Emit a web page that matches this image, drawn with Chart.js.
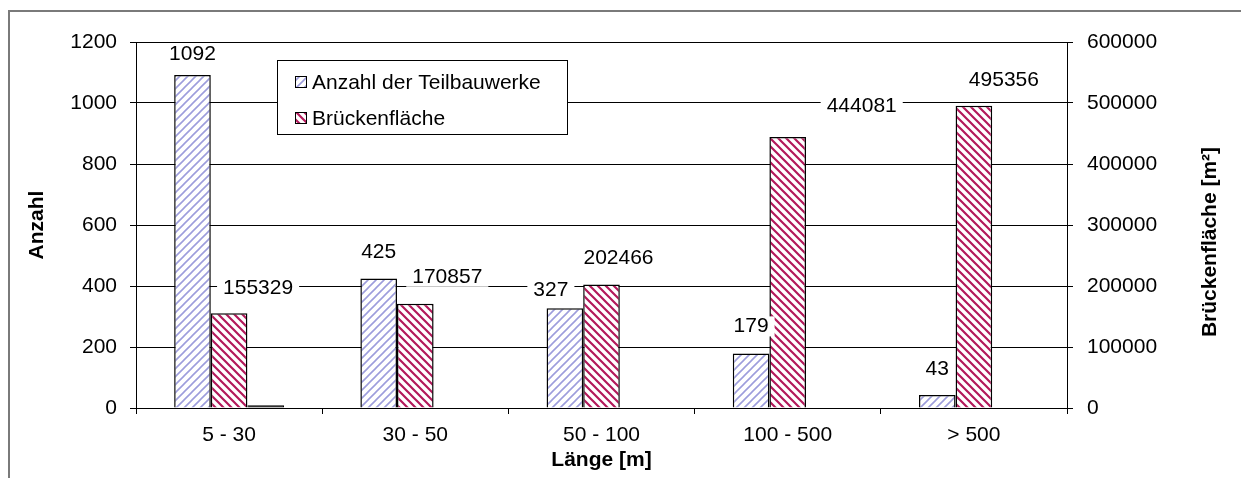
<!DOCTYPE html>
<html>
<head>
<meta charset="utf-8">
<script src="https://cdn.jsdelivr.net/npm/chart.js@4/dist/chart.umd.min.js"></script>
<style>
html, body { margin: 0; padding: 0; background: #fff; }
#wrap { position: relative; width: 1241px; height: 478px; }
</style>
</head>
<body>
<div id="wrap"><canvas id="bars"></canvas></div>
<script>
// data
var categories = ['5 - 30', '30 - 50', '50 - 100', '100 - 500', '> 500'];
var anzahl = [1092, 425, 327, 179, 43];
var flaeche = [155329, 170857, 202466, 444081, 495356];
var rest = [9, 0, 0, 0, 0];

// where each value label sits relative to the top of its bar (dx, dy)
var labelShift = [
    [[0, -21], [0, -26], [-14, -18], [0, -27], [0, -26]],
    [[29, -25], [32, -27], [17, -26], [74, -31], [30, -26]]
];

var FONT = "'Liberation Sans', Arial, sans-serif";
var canvas = document.getElementById('bars');
var ctx = canvas.getContext('2d');

function stripes(color, width, up) {
    var c = document.createElement('canvas');
    c.width = 8; c.height = 8;
    var g = c.getContext('2d');
    g.fillStyle = '#fff';
    g.fillRect(0, 0, 8, 8);
    g.strokeStyle = color;
    g.lineWidth = width;
    g.beginPath();
    if (up) {
        g.moveTo(-2, 10); g.lineTo(10, -2);
        g.moveTo(-2, 2); g.lineTo(2, -2);
        g.moveTo(6, 10); g.lineTo(10, 6);
    } else {
        g.moveTo(-2, -2); g.lineTo(10, 10);
        g.moveTo(6, -2); g.lineTo(10, 2);
        g.moveTo(-2, 6); g.lineTo(2, 10);
    }
    g.stroke();
    return ctx.createPattern(c, 'repeat');
}

var bluePat = stripes('#9d9ddc', 1.6, true);
var redPat = stripes('#b3195b', 2.2, false);

var framePlugin = {
    id: 'frame',
    beforeDraw: function(chart) {
        var c = chart.ctx;
        c.save();
        c.strokeStyle = '#7a7a7a';
        c.lineWidth = 2;
        c.beginPath();
        c.moveTo(9, 478); c.lineTo(9, 11); c.lineTo(1241, 11);
        c.stroke();
        c.restore();
    }
};

var valuePlugin = {
    id: 'values',
    afterDatasetsDraw: function(chart) {
        var c = chart.ctx;
        c.save();
        c.font = '21px ' + FONT;
        c.textAlign = 'center';
        c.textBaseline = 'middle';
        [0, 1].forEach(function(i) {
            var meta = chart.getDatasetMeta(i);
            var vals = chart.data.datasets[i].data;
            meta.data.forEach(function(bar, j) {
                var txt = String(vals[j]);
                var x = bar.x + labelShift[i][j][0];
                var y = bar.y + labelShift[i][j][1];
                var w = c.measureText(txt).width + 12;
                c.fillStyle = '#fff';
                c.fillRect(x - w / 2, y - 10, w, 20);
                c.fillStyle = '#000';
                c.fillText(txt, x, y);
            });
        });
        c.restore();
    }
};

var legendPlugin = {
    id: 'boxLegend',
    afterDatasetsDraw: function(chart) {
        var c = chart.ctx;
        var a = chart.chartArea;
        var x = a.left + 141, y = a.top + 18;
        c.save();
        c.fillStyle = '#fff';
        c.fillRect(x, y, 290, 74);
        c.strokeStyle = '#000';
        c.lineWidth = 1;
        c.strokeRect(x + 0.5, y + 0.5, 290, 74);
        c.font = '21px ' + FONT;
        c.textBaseline = 'middle';
        c.textAlign = 'left';
        [0, 1].forEach(function(i) {
            var ds = chart.data.datasets[i];
            var cy = y + 22 + i * 36;
            c.fillStyle = ds.backgroundColor;
            c.fillRect(x + 18, cy - 6, 12, 12);
            c.strokeStyle = '#000';
            c.strokeRect(x + 18.5, cy - 5.5, 11, 11);
            c.fillStyle = '#000';
            c.fillText(ds.label, x + 35, cy + 1);
        });
        c.restore();
    }
};

var rightTitlePlugin = {
    id: 'rightTitle',
    afterDraw: function(chart) {
        var c = chart.ctx;
        var s = chart.scales.y1;
        c.save();
        c.translate(s.right - 31, (s.top + s.bottom) / 2 + 17);
        c.rotate(-Math.PI / 2);
        c.font = 'bold 21px ' + FONT;
        c.fillStyle = '#000';
        c.textAlign = 'center';
        c.textBaseline = 'middle';
        c.fillText('Brückenfläche [m²]', 0, 0);
        c.restore();
    }
};

var tickFont = { family: FONT, size: 21 };
var titleFont = { family: FONT, size: 21, weight: 'bold' };

new Chart(canvas, {
    type: 'bar',
    data: {
        labels: categories,
        datasets: [{
            label: 'Anzahl der Teilbauwerke',
            data: anzahl,
            yAxisID: 'y',
            backgroundColor: bluePat,
            borderColor: '#000',
            borderWidth: 1.5
        }, {
            label: 'Brückenfläche',
            data: flaeche,
            yAxisID: 'y1',
            backgroundColor: redPat,
            borderColor: '#000',
            borderWidth: 1.5
        }, {
            label: '',
            data: rest,
            yAxisID: 'y',
            backgroundColor: '#000',
            borderColor: '#000',
            borderWidth: 1
        }]
    },
    options: {
        responsive: true,
        maintainAspectRatio: false,
        animation: false,
        devicePixelRatio: 1,
        categoryPercentage: 0.59,
        barPercentage: 1,
        layout: { padding: { top: 42, left: 0, right: 0, bottom: 0 } },
        plugins: {
            legend: { display: false },
            tooltip: { enabled: false }
        },
        scales: {
            x: {
                afterFit: function(s) { s.height = 70; },
                grid: { drawOnChartArea: false, tickLength: 6, color: '#000' },
                border: { color: '#000', width: 1 },
                ticks: { font: tickFont, color: '#000', padding: 9, maxRotation: 0 },
                title: { display: true, text: 'Länge [m]', font: titleFont, color: '#000',
                         padding: { top: 0, bottom: 5 } }
            },
            y: {
                position: 'left',
                min: 0, max: 1200,
                afterFit: function(s) { s.width = 136; },
                grid: { color: '#000', tickLength: 6 },
                border: { color: '#000', width: 1 },
                ticks: { stepSize: 200, font: tickFont, color: '#000', padding: 13,
                         callback: function(v) { return String(v); } },
                title: { display: true, text: 'Anzahl', font: titleFont, color: '#000',
                         padding: { top: 25, bottom: 0 } }
            },
            y1: {
                position: 'right',
                min: 0, max: 600000,
                afterFit: function(s) { s.width = 174; },
                grid: { drawOnChartArea: false, color: '#000', tickLength: 6 },
                border: { color: '#000', width: 1 },
                ticks: { stepSize: 100000, font: tickFont, color: '#000', padding: 14,
                         callback: function(v) { return String(v); } }
            }
        }
    },
    plugins: [framePlugin, valuePlugin, legendPlugin, rightTitlePlugin]
});
</script>
</body>
</html>
